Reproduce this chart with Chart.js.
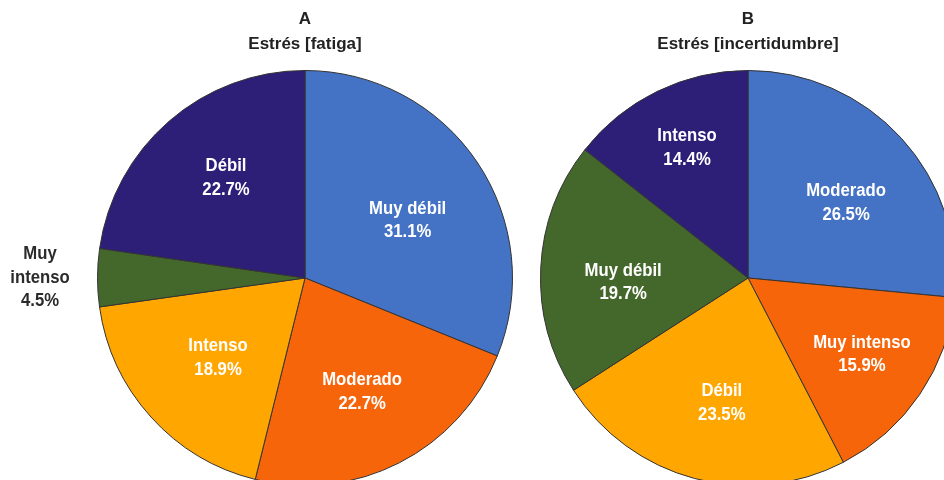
<!DOCTYPE html>
<html><head><meta charset="utf-8">
<script src="https://cdn.jsdelivr.net/npm/chart.js@4"></script>
<style>
html,body{margin:0;padding:0;background:#fff;}
body{width:944px;height:480px;overflow:hidden;position:relative;}
canvas{position:absolute;top:0;}
</style></head>
<body>
<canvas id="chartA" width="528" height="500" style="left:0px"></canvas>
<canvas id="chartB" width="552" height="500" style="left:472px"></canvas>
<script>
// ---- data ----
const titleA = ['A', 'Estrés [fatiga]'];
const categoriesA = ['Muy débil', 'Moderado', 'Intenso', 'Muy intenso', 'Débil'];
const valuesA = [31.1, 22.7, 18.9, 4.5, 22.7];

const titleB = ['B', 'Estrés [incertidumbre]'];
const categoriesB = ['Moderado', 'Muy intenso', 'Débil', 'Muy débil', 'Intenso'];
const valuesB = [26.5, 15.9, 23.5, 19.7, 14.4];

// ---- style ----
const sliceColors = ['#4472C4', '#F7650B', '#FFA600', '#44682B', '#2D1E78'];
const FONT = '"Liberation Sans", Arial, Helvetica, sans-serif';
const LABEL_FONT = 'bold 19px "Liberation Sans", Arial, Helvetica, sans-serif';
const LABEL_SCALE_X = 0.88;

const sliceLabelPlugin = {
  id: 'sliceLabels',
  afterDatasetsDraw(chart, args, opts) {
    const ctx = chart.ctx;
    const meta = chart.getDatasetMeta(0);
    const ds = chart.data.datasets[0];
    const lh = 23.5;
    meta.data.forEach((arc, i) => {
      const p = arc.getProps(['x', 'y', 'startAngle', 'endAngle', 'outerRadius'], true);
      const mid = (p.startAngle + p.endAngle) / 2 + opts.shift[i] * Math.PI / 180;
      const d = opts.dist[i] * p.outerRadius;
      const cx = p.x + Math.cos(mid) * d;
      const cy = p.y + Math.sin(mid) * d;
      const outside = opts.outside[i];
      const name = chart.data.labels[i];
      const pct = ds.data[i].toFixed(1) + '%';
      const lines = outside ? name.split(' ').concat([pct]) : [name, pct];
      ctx.save();
      ctx.translate(cx, cy);
      ctx.scale(LABEL_SCALE_X, 1);
      ctx.font = LABEL_FONT;
      ctx.textAlign = 'center';
      ctx.textBaseline = 'middle';
      ctx.fillStyle = outside ? '#2b2b2b' : '#ffffff';
      const y0 = -(lines.length - 1) * lh / 2;
      lines.forEach((t, k) => ctx.fillText(t, 0, y0 + k * lh));
      ctx.restore();
    });
  }
};

function makePie(id, cats, vals, title, padding, dist, shift, outside) {
  return new Chart(document.getElementById(id), {
    type: 'pie',
    data: {
      labels: cats,
      datasets: [{
        data: vals,
        backgroundColor: sliceColors,
        borderColor: '#333333',
        borderWidth: 1
      }]
    },
    options: {
      responsive: false,
      animation: false,
      layout: { padding: padding },
      plugins: {
        legend: { display: false },
        tooltip: { enabled: false },
        title: {
          display: true,
          text: title,
          color: '#222222',
          font: { family: FONT, size: 17, weight: 'bold', lineHeight: 1.47 },
          padding: { top: 6.5, bottom: 13.5 }
        },
        sliceLabels: { dist: dist, shift: shift, outside: outside }
      }
    },
    plugins: [sliceLabelPlugin]
  });
}

makePie('chartA', categoriesA, valuesA, titleA,
  { left: 97, right: 15, top: 0, bottom: 14 },
  [0.568, 0.614, 0.569, 1.277, 0.614],
  [4.5, 0.4, -0.5, 0, 2.6],
  [false, false, false, true, false]);

makePie('chartB', categoriesB, valuesB, titleB,
  { left: 68, right: 68, top: 0, bottom: 14 },
  [0.595, 0.66, 0.615, 0.602, 0.692],
  [4.9, -0.3, -3.1, -4.7, 0.8],
  [false, false, false, false, false]);
</script>
</body></html>
